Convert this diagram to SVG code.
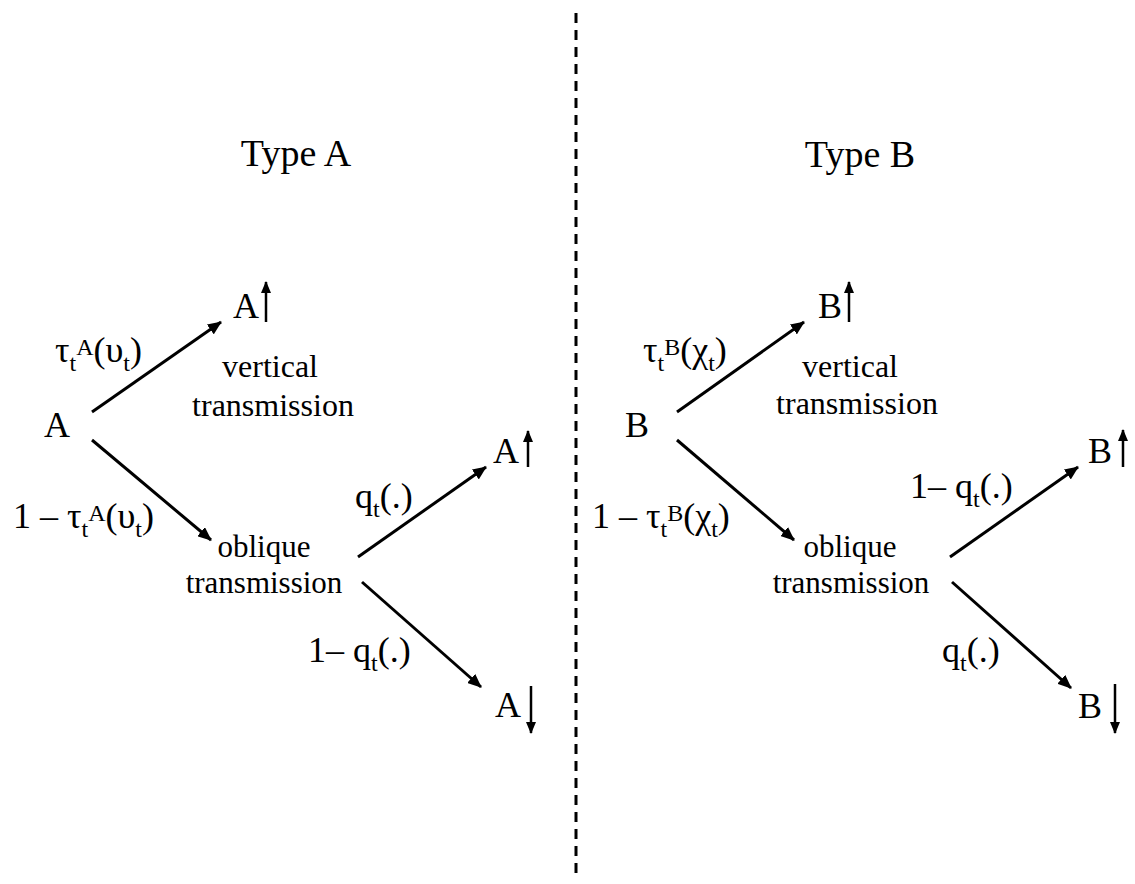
<svg xmlns="http://www.w3.org/2000/svg" width="1135" height="884" viewBox="0 0 1135 884">
<style>
text{font-family:"Liberation Serif","Times New Roman",serif;fill:#000}
.lbl{font-size:36px}
.small{font-size:32px}
.obl{font-size:31px}
.title{font-size:38px}
.sub{font-size:24px}
.conn{stroke:#000;stroke-width:3;fill:none}
.tick{stroke:#000;stroke-width:2.5;fill:none}
</style>
<defs>
<marker id="ah" markerWidth="14" markerHeight="12" refX="13" refY="6" orient="auto" markerUnits="userSpaceOnUse">
<path d="M0,0 L14,6 L0,12 Z" fill="#000"/>
</marker>
<marker id="ahs" markerWidth="12" markerHeight="10" refX="11" refY="5" orient="auto" markerUnits="userSpaceOnUse">
<path d="M0,0 L12,5 L0,10 Z" fill="#000"/>
</marker>
</defs>
<rect width="1135" height="884" fill="#fff"/>

<g id="divider">
<line x1="576" y1="13" x2="576" y2="880" stroke="#000" stroke-width="3" stroke-dasharray="10 7"/>
</g>

<g id="titleA"><text class="title" x="296" y="166" text-anchor="middle">Type A</text></g>
<g id="titleB"><text class="title" x="860" y="167" text-anchor="middle">Type B</text></g>

<!-- Type A nodes -->
<g id="nodeA"><text class="lbl" x="44" y="437">A</text></g>
<g id="nodeAup1"><text class="lbl" x="233" y="318">A</text></g>
<g id="vertA"><text class="small" x="270" y="377" text-anchor="middle">vertical</text><text class="small" x="273" y="416" text-anchor="middle">transmission</text></g>
<g id="oblA"><text class="obl" x="264" y="557" text-anchor="middle">oblique</text><text class="obl" x="264" y="593" text-anchor="middle">transmission</text></g>
<g id="nodeAup2"><text class="lbl" x="493" y="463">A</text></g>
<g id="nodeAdown"><text class="lbl" x="495" y="717">A</text></g>

<!-- Type B nodes -->
<g id="nodeB"><text class="lbl" x="625" y="437">B</text></g>
<g id="nodeBup1"><text class="lbl" x="818" y="318">B</text></g>
<g id="vertB"><text class="small" x="850" y="377" text-anchor="middle">vertical</text><text class="small" x="857" y="414" text-anchor="middle">transmission</text></g>
<g id="oblB"><text class="obl" x="850" y="557" text-anchor="middle">oblique</text><text class="obl" x="851" y="593" text-anchor="middle">transmission</text></g>
<g id="nodeBup2"><text class="lbl" x="1088" y="463">B</text></g>
<g id="nodeBdown"><text class="lbl" x="1078" y="718">B</text></g>

<g id="connectors">
<line class="conn" x1="92" y1="412" x2="221" y2="322" marker-end="url(#ah)"/>
<line class="conn" x1="92" y1="440" x2="211" y2="540" marker-end="url(#ah)"/>
<line class="conn" x1="358" y1="557" x2="486" y2="467" marker-end="url(#ah)"/>
<line class="conn" x1="362" y1="582" x2="481" y2="687" marker-end="url(#ah)"/>
<line class="tick" x1="266" y1="322" x2="266" y2="282" marker-end="url(#ahs)"/>
<line class="tick" x1="528" y1="467" x2="528" y2="431" marker-end="url(#ahs)"/>
<line class="tick" x1="531" y1="686" x2="531" y2="733" marker-end="url(#ahs)"/>

<line class="conn" x1="677" y1="412" x2="804" y2="322" marker-end="url(#ah)"/>
<line class="conn" x1="677" y1="440" x2="794" y2="540" marker-end="url(#ah)"/>
<line class="conn" x1="950" y1="557" x2="1078" y2="467" marker-end="url(#ah)"/>
<line class="conn" x1="952" y1="582" x2="1071" y2="688" marker-end="url(#ah)"/>
<line class="tick" x1="849" y1="322" x2="849" y2="282" marker-end="url(#ahs)"/>
<line class="tick" x1="1123" y1="467" x2="1123" y2="430" marker-end="url(#ahs)"/>
<line class="tick" x1="1115" y1="684" x2="1115" y2="733" marker-end="url(#ahs)"/>
</g>

<g id="labels">
<text class="lbl" x="55" y="362">τ<tspan class="sub" dy="9">t</tspan><tspan class="sub" dy="-16">A</tspan><tspan dy="7">(υ</tspan><tspan class="sub" dy="9">t</tspan><tspan dy="-9">)</tspan></text>
<text class="lbl" x="13" y="528">1 – τ<tspan class="sub" dy="9">t</tspan><tspan class="sub" dy="-16">A</tspan><tspan dy="7">(υ</tspan><tspan class="sub" dy="9">t</tspan><tspan dy="-9">)</tspan></text>
<text class="lbl" x="355" y="508">q<tspan class="sub" dy="9">t</tspan><tspan dy="-9">(.)</tspan></text>
<text class="lbl" x="308" y="662">1– q<tspan class="sub" dy="9">t</tspan><tspan dy="-9">(.)</tspan></text>

<text class="lbl" x="643" y="362">τ<tspan class="sub" dy="9">t</tspan><tspan class="sub" dy="-16">B</tspan><tspan dy="7">(χ</tspan><tspan class="sub" dy="9">t</tspan><tspan dy="-9">)</tspan></text>
<text class="lbl" x="592" y="528">1 – τ<tspan class="sub" dy="9">t</tspan><tspan class="sub" dy="-16">B</tspan><tspan dy="7">(χ</tspan><tspan class="sub" dy="9">t</tspan><tspan dy="-9">)</tspan></text>
<text class="lbl" x="910" y="498">1– q<tspan class="sub" dy="9">t</tspan><tspan dy="-9">(.)</tspan></text>
<text class="lbl" x="942" y="662">q<tspan class="sub" dy="9">t</tspan><tspan dy="-9">(.)</tspan></text>
</g>
</svg>
